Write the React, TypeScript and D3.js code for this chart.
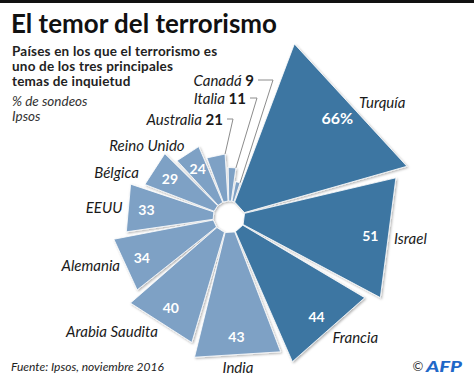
import React from 'react';
import * as d3 from 'd3';

// ---- data ----
const countries = ['Turquía', 'Israel', 'Francia', 'India', 'Arabia Saudita', 'Alemania', 'EEUU', 'Bélgica', 'Reino Unido', 'Australia', 'Italia', 'Canadá'];
const values = [66, 51, 44, 43, 40, 34, 33, 29, 24, 21, 11, 9];
const highlighted = ['Turquía', 'Israel', 'Francia'];
const leaderCountries = ['Canadá', 'Italia', 'Australia'];
const titleText = 'El temor del terrorismo';
const subtitleLines = ['Países en los que el terrorismo es', 'uno de los tres principales', 'temas de inquietud'];
const noteLines = ['% de sondeos', 'Ipsos'];
const sourceText = 'Fuente: Ipsos, noviembre 2016';

// ---- layout ----
const W = 474, H = 382;
const cx = 229, cy = 217;
const deg = Math.PI / 180;
const padA = 2.7 * deg;
const startA = 19.35 * deg;
const innerR = 16;
const leaderRowY = [80, 98, 119];
const leaderTextEnd = [254, 246, 223];
const leaderElbowX = [273, 257, 233];
const labelNudge: Record<string, [number, number]> = {
  'Turquía': [4, 1],
  'Bélgica': [-11, 6],
  'Reino Unido': [0, -4],
  'Francia': [0, 3],
  'Arabia Saudita': [0, 3],
  'Alemania': [0, -2],
};
const FONT = 'Lato, "Open Sans", sans-serif';
const DARK = '#3d76a2';
const LIGHT = '#7ea1c5';

function pt(r: number, a: number): [number, number] {
  return [cx + r * Math.sin(a), cy - r * Math.cos(a)];
}

export default function App() {
  const n = values.length;
  const pie = d3.pie<number>().sort(null).value(d => d).padAngle(padA).startAngle(startA).endAngle(startA + 2 * Math.PI);
  const arcs = pie(values);
  const rScale = d3.scaleLinear().domain([n - 1, 0]).range([36, 185]);
  const line = d3.line();

  const wedges = arcs.map((a, i) => {
    const a0 = a.startAngle + a.padAngle / 2;
    const a1 = a.endAngle - a.padAngle / 2;
    const r = rScale(i);
    const mid = (a0 + a1) / 2;
    const half = (a1 - a0) / 2;
    const chord = r * Math.cos(half);
    return { a0, a1, r, mid, chord, name: countries[i], value: values[i], i };
  });

  return (
    <svg width={W} height={H} viewBox={`0 0 ${W} ${H}`} style={{ position: 'absolute', left: 0, top: 0, background: '#fff' }} fontFamily={FONT}>
      <defs>
        <filter id="sh" x="-20%" y="-20%" width="140%" height="140%">
          <feDropShadow dx="1.2" dy="1.2" stdDeviation="1.2" floodColor="#000" floodOpacity="0.3" />
        </filter>
      </defs>
      <rect x={0} y={0} width={W} height={H} fill="#fff" />
      <rect x={0} y={0} width={W} height={3} fill="#111" />

      <text x={11} y={33} fontSize={26} fontWeight={700} fill="#111" textLength={266} lengthAdjust="spacingAndGlyphs">{titleText}</text>
      {subtitleLines.map((s, i) => (
        <text key={s} x={12} y={56 + i * 15} fontSize={13.5} fontWeight={700} fill="#222" letterSpacing={0.2}>{s}</text>
      ))}
      {noteLines.map((s, i) => (
        <text key={s} x={12} y={106 + i * 14.5} fontSize={13.5} fontStyle="italic" fill="#333">{s}</text>
      ))}

      <g filter="url(#sh)">
        {wedges.map(w => (
          <path key={w.name}
            d={line([pt(innerR, w.a0), pt(w.r, w.a0), pt(w.r, w.a1), pt(innerR, w.a1)])! + 'Z'}
            fill={highlighted.includes(w.name) ? DARK : LIGHT}
            stroke="#fff" strokeWidth={0.8} strokeLinejoin="round" />
        ))}
      </g>

      {wedges.filter(w => !leaderCountries.includes(w.name)).map(w => {
        const [x, y] = pt(w.chord - 18, w.mid);
        return (
          <text key={'v' + w.name} x={x} y={y} fontSize={w.i === 0 ? 16 : 14} fontWeight={700} fill="#fff"
            textAnchor="middle" dominantBaseline="central">{w.i === 0 ? `${w.value}%` : w.value}</text>
        );
      })}

      {wedges.filter(w => !leaderCountries.includes(w.name)).map(w => {
        const [x, y] = pt(w.chord + 6, w.mid);
        const s = Math.sin(w.mid);
        const anchor = s > 0.35 ? 'start' : s < -0.35 ? 'end' : 'middle';
        const yy = anchor === 'middle' ? y + (Math.cos(w.mid) < 0 ? 7 : -7) : y;
        const [dx, dy] = labelNudge[w.name] || [0, 0];
        return (
          <text key={'n' + w.name} x={x + dx} y={yy + dy} fontSize={15} fontStyle="italic" fill="#1a1a1a"
            textAnchor={anchor} dominantBaseline="central">{w.name}</text>
        );
      })}

      {leaderCountries.map((name, k) => {
        const w = wedges.find(d => d.name === name)!;
        const end = pt(w.r, w.a1);
        const y = leaderRowY[k];
        const ex = leaderElbowX[k];
        const tx = leaderTextEnd[k];
        return (
          <g key={'l' + name}>
            <path d={line([[tx + 4, y], [ex, y], end])!} fill="none" stroke="#8c8c8c" strokeWidth={1} />
            <text x={tx} y={y} textAnchor="end" dominantBaseline="central" fill="#1a1a1a" fontSize={15}>
              <tspan fontStyle="italic">{name}</tspan>
              <tspan fontWeight={700}>{' ' + w.value}</tspan>
            </text>
          </g>
        );
      })}

      <text x={11} y={371} fontSize={12} fontStyle="italic" fill="#222">{sourceText}</text>
      <text x={418} y={366} fontSize={13} fill="#333" textAnchor="middle" dominantBaseline="central">©</text>
      <text x={426} y={366} fontSize={15} fontWeight={900} fontStyle="italic" fill="#1f68c8" dominantBaseline="central" textLength={36} lengthAdjust="spacingAndGlyphs">AFP</text>
    </svg>
  );
}
